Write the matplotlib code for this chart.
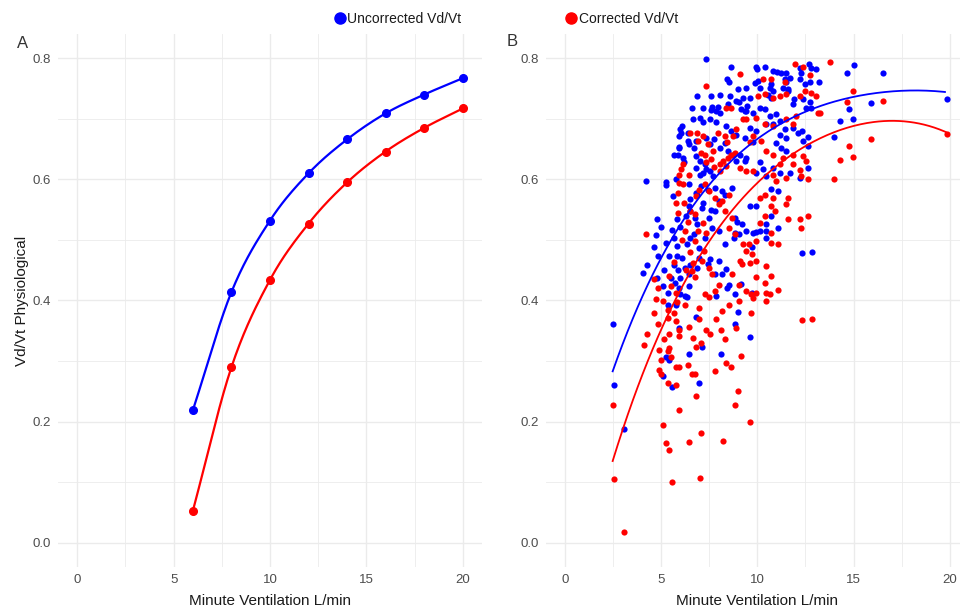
import numpy as np
import matplotlib
matplotlib.use("Agg")
import matplotlib.pyplot as plt
from matplotlib.lines import Line2D

plt.rcParams['font.family'] = ['Liberation Sans', 'DejaVu Sans']

# ---------------- datos ----------------
# Panel A: curvas modeladas
ve_a = [6, 8, 10, 12, 14, 16, 18, 20]
unc_a = [0.219, 0.414, 0.532, 0.610, 0.666, 0.709, 0.740, 0.767]
cor_a = [0.053, 0.290, 0.434, 0.527, 0.595, 0.646, 0.685, 0.717]

# Panel B: pacientes (VE, Vd/Vt)
unc_pts = [
    (7.34, 0.799), (4.22, 0.597), (4.08, 0.445), (4.27, 0.459), (4.79, 0.535), (4.74, 0.508),
    (4.62, 0.489), (4.83, 0.473), (5.0, 0.522), (5.17, 0.451), (5.26, 0.596), (5.26, 0.590),
    (5.63, 0.572), (5.69, 0.640), (5.92, 0.654), (5.99, 0.683), (6.06, 0.688), (6.39, 0.676),
    (6.61, 0.718), (6.86, 0.737), (6.68, 0.700), (7.17, 0.718), (7.6, 0.737), (7.66, 0.720),
    (8.04, 0.739), (7.97, 0.720), (8.42, 0.765), (8.52, 0.760), (8.65, 0.785), (8.99, 0.749),
    (9.04, 0.727), (9.17, 0.716), (9.34, 0.713), (9.46, 0.721), (9.6, 0.735), (9.95, 0.786),
    (9.98, 0.782), (9.86, 0.759), (10.38, 0.786), (10.82, 0.779), (11.02, 0.777), (11.25, 0.775),
    (11.51, 0.776), (10.73, 0.757), (10.56, 0.740), (11.48, 0.760), (11.58, 0.746), (11.89, 0.732),
    (12.2, 0.784), (12.29, 0.776), (12.69, 0.791), (12.81, 0.784), (13.04, 0.782), (13.19, 0.760),
    (12.47, 0.757), (12.73, 0.760), (14.64, 0.775), (15.02, 0.789), (16.55, 0.776), (15.9, 0.726),
    (14.77, 0.716), (14.95, 0.699), (14.29, 0.696), (13.99, 0.670), (19.84, 0.732), (12.64, 0.670),
    (12.34, 0.680), (12.24, 0.603), (12.64, 0.619), (12.34, 0.478), (12.86, 0.480), (11.08, 0.520),
    (10.47, 0.527), (10.73, 0.539), (10.47, 0.504), (10.12, 0.515), (9.95, 0.513), (9.72, 0.489),
    (8.96, 0.529), (8.82, 0.512), (8.35, 0.452), (8.42, 0.421), (7.83, 0.408), (7.43, 0.460),
    (7.52, 0.468),
    (7.6, 0.715), (7.86, 0.713), (8.04, 0.710), (8.47, 0.724), (8.56, 0.738), (8.91, 0.729),
    (7.0, 0.702), (7.17, 0.694), (7.52, 0.700), (7.86, 0.694), (6.04, 0.677), (5.95, 0.672),
    (6.39, 0.663), (6.47, 0.658), (6.73, 0.652), (5.95, 0.652), (5.86, 0.641), (6.13, 0.636),
    (6.21, 0.628), (6.82, 0.663), (7.34, 0.669), (7.52, 0.658), (7.77, 0.666), (8.04, 0.652),
    (8.3, 0.660), (8.47, 0.647), (8.73, 0.641), (8.91, 0.630), (7.0, 0.630), (7.26, 0.625),
    (7.34, 0.617), (7.52, 0.614), (7.17, 0.611), (7.69, 0.606), (7.0, 0.608), (5.78, 0.600),
    (6.82, 0.619), (8.39, 0.688), (8.65, 0.680), (8.91, 0.674),
    (11.42, 0.765), (11.68, 0.768), (12.2, 0.765), (10.12, 0.751), (10.03, 0.762), (9.43, 0.751),
    (9.25, 0.735), (10.64, 0.751), (10.81, 0.746), (10.73, 0.735), (11.33, 0.751), (11.59, 0.749),
    (11.85, 0.724), (12.38, 0.732), (12.72, 0.727), (12.55, 0.718), (12.81, 0.718), (9.43, 0.713),
    (9.77, 0.710), (10.12, 0.718), (10.38, 0.716), (10.64, 0.705), (10.99, 0.708), (10.81, 0.691),
    (11.16, 0.696), (10.47, 0.691), (9.6, 0.685), (9.94, 0.680), (9.34, 0.669), (9.77, 0.661),
    (11.16, 0.674), (11.42, 0.683), (11.5, 0.669), (10.99, 0.660), (11.25, 0.652), (11.85, 0.685),
    (12.12, 0.677), (12.38, 0.663), (12.64, 0.655), (9.08, 0.641), (9.43, 0.636), (9.34, 0.630),
    (10.12, 0.628), (10.29, 0.617), (10.81, 0.619), (11.16, 0.611), (11.68, 0.611), (11.5, 0.647),
    (9.94, 0.611), (10.47, 0.606),
    (5.82, 0.534), (6.0, 0.521), (5.65, 0.504), (5.82, 0.490), (6.35, 0.493), (6.52, 0.504),
    (6.69, 0.509), (6.87, 0.526), (6.78, 0.537), (6.43, 0.556), (5.82, 0.473), (6.09, 0.470),
    (6.26, 0.454), (6.43, 0.443), (6.0, 0.437), (5.74, 0.429), (5.91, 0.421), (6.26, 0.407),
    (6.0, 0.410), (6.52, 0.459), (6.95, 0.470), (6.87, 0.454), (6.95, 0.487), (7.3, 0.504),
    (7.65, 0.520), (7.47, 0.537), (7.82, 0.548), (7.99, 0.564), (8.34, 0.575), (8.69, 0.586),
    (8.17, 0.581), (7.82, 0.586), (6.43, 0.592), (6.87, 0.575), (7.13, 0.553), (7.99, 0.515),
    (8.34, 0.493), (8.78, 0.504), (9.04, 0.509), (9.39, 0.515), (7.99, 0.465), (8.17, 0.443),
    (8.51, 0.426), (7.82, 0.443), (8.86, 0.410), (9.73, 0.412), (8.86, 0.536), (9.21, 0.526),
    (6.43, 0.424), (6.35, 0.405),
    (4.79, 0.437), (5.09, 0.424), (5.35, 0.413), (5.52, 0.437), (5.69, 0.459), (5.87, 0.451),
    (5.43, 0.473), (5.26, 0.495), (5.57, 0.517), (6.3, 0.539), (6.48, 0.548),
    (6.82, 0.639), (7.08, 0.589), (7.43, 0.583), (6.82, 0.578), (6.48, 0.567), (7.17, 0.561),
    (7.6, 0.550),
    (10.73, 0.584), (11.07, 0.581), (9.95, 0.556), (9.6, 0.556), (9.77, 0.512), (10.47, 0.515),
    (9.16, 0.428),
    (2.48, 0.362), (2.57, 0.261), (3.09, 0.188), (5.09, 0.276), (5.57, 0.257), (6.44, 0.311),
    (7.12, 0.323), (6.96, 0.263), (8.09, 0.311), (8.82, 0.362), (8.99, 0.381), (9.6, 0.340),
    (5.35, 0.393), (5.75, 0.392), (6.82, 0.373), (5.23, 0.307), (5.43, 0.301), (5.95, 0.355),
]

cor_pts = [
    (7.34, 0.754), (8.35, 0.718), (8.65, 0.717), (6.87, 0.676), (7.95, 0.677), (8.3, 0.672),
    (7.08, 0.644), (7.26, 0.641), (7.69, 0.647), (6.13, 0.625), (6.04, 0.617), (5.95, 0.608),
    (6.47, 0.608), (5.95, 0.594), (7.34, 0.628), (7.6, 0.634), (7.77, 0.620), (8.04, 0.625),
    (8.21, 0.631), (8.47, 0.636), (8.65, 0.641), (8.82, 0.644), (8.04, 0.614), (8.39, 0.622),
    (9.08, 0.774), (11.42, 0.760), (10.69, 0.765), (10.29, 0.765),
    (11.94, 0.790), (12.38, 0.785), (12.72, 0.773), (10.03, 0.738), (10.38, 0.741), (10.81, 0.735),
    (11.16, 0.738), (11.5, 0.741), (12.2, 0.738), (12.46, 0.746), (12.81, 0.743), (13.07, 0.738),
    (13.24, 0.709), (9.43, 0.699), (9.94, 0.702), (10.38, 0.691), (10.81, 0.688), (11.5, 0.699),
    (12.03, 0.705), (11.85, 0.691), (9.77, 0.672), (9.6, 0.661), (10.2, 0.663), (10.47, 0.647),
    (10.81, 0.641), (11.33, 0.636), (11.85, 0.641), (12.38, 0.638), (12.55, 0.630), (11.85, 0.625),
    (14.77, 0.655), (14.29, 0.632), (14.95, 0.637), (13.99, 0.600), (15.9, 0.666), (16.55, 0.729),
    (14.99, 0.746), (14.64, 0.728), (13.77, 0.794), (19.84, 0.675), (13.16, 0.710), (12.64, 0.600),
    (12.2, 0.616), (12.29, 0.605), (9.08, 0.619), (9.43, 0.614), (9.77, 0.614), (10.81, 0.608),
    (10.99, 0.597), (11.16, 0.625), (11.5, 0.603),
    (10.12, 0.570), (10.38, 0.575), (10.81, 0.570), (11.59, 0.570), (11.51, 0.559), (10.73, 0.556),
    (10.9, 0.548), (11.59, 0.534), (12.2, 0.534), (12.64, 0.539), (12.29, 0.520), (10.38, 0.539),
    (10.12, 0.528), (10.73, 0.512), (11.07, 0.493), (10.73, 0.495), (9.95, 0.498), (9.25, 0.493),
    (9.08, 0.465), (9.6, 0.462), (10.47, 0.457), (10.73, 0.440), (10.38, 0.429), (11.07, 0.418),
    (10.47, 0.413), (10.64, 0.410), (9.95, 0.413), (9.69, 0.410), (9.77, 0.404), (10.47, 0.399),
    (9.69, 0.380),
    (4.22, 0.510), (6.26, 0.515), (6.78, 0.498), (7.21, 0.482), (7.13, 0.465), (6.6, 0.449),
    (6.78, 0.438), (7.47, 0.454), (7.65, 0.443), (7.99, 0.426), (7.82, 0.416), (7.47, 0.405),
    (5.82, 0.398), (6.26, 0.393), (5.65, 0.379), (6.95, 0.388), (7.3, 0.410), (7.99, 0.559),
    (8.34, 0.548), (8.69, 0.537), (8.51, 0.520), (8.86, 0.509), (9.39, 0.482), (9.73, 0.476),
    (9.91, 0.465), (7.47, 0.581), (7.82, 0.570), (8.17, 0.564), (8.51, 0.575), (7.3, 0.592),
    (6.95, 0.583), (8.69, 0.443), (9.04, 0.426), (9.39, 0.416), (9.04, 0.399), (8.51, 0.393),
    (8.17, 0.383), (9.56, 0.493), (9.21, 0.460), (9.91, 0.438),
    (6.16, 0.592), (5.87, 0.578), (5.78, 0.561), (6.21, 0.561), (6.48, 0.548), (6.82, 0.572),
    (6.74, 0.542), (7.17, 0.528), (7.34, 0.512), (5.69, 0.463), (5.43, 0.441), (5.52, 0.424),
    (5.78, 0.413), (6.3, 0.451), (6.65, 0.462), (6.1, 0.500), (6.5, 0.480), (6.9, 0.515),
    (6.4, 0.530), (5.9, 0.545),
    (6.48, 0.677), (6.91, 0.663), (7.17, 0.672), (7.43, 0.658), (8.42, 0.661), (8.73, 0.672),
    (8.91, 0.683), (9.25, 0.699),
    (4.62, 0.436), (4.83, 0.421), (4.74, 0.402), (5.09, 0.399), (5.35, 0.385),
    (4.83, 0.361), (5.35, 0.371), (5.78, 0.366), (5.95, 0.352), (5.43, 0.344), (5.17, 0.336),
    (5.95, 0.341), (6.47, 0.357), (6.99, 0.369), (7.34, 0.352), (7.52, 0.344), (6.65, 0.338),
    (6.82, 0.324), (7.08, 0.330), (6.39, 0.294), (5.78, 0.291), (5.95, 0.290), (5.43, 0.322),
    (5.35, 0.316), (5.0, 0.302), (4.91, 0.286), (5.0, 0.278), (5.35, 0.264), (5.78, 0.261),
    (6.82, 0.242), (5.95, 0.220), (7.78, 0.283), (8.38, 0.297), (8.65, 0.291), (8.3, 0.336),
    (8.12, 0.352), (7.86, 0.369), (8.91, 0.355), (8.82, 0.228), (8.99, 0.250), (4.13, 0.327),
    (5.09, 0.195), (7.08, 0.181), (8.21, 0.168), (6.47, 0.166), (2.48, 0.228), (5.26, 0.165),
    (5.43, 0.153), (2.57, 0.105), (3.09, 0.017), (5.57, 0.101), (7.0, 0.107), (9.6, 0.200),
    (4.27, 0.345), (4.62, 0.380), (4.88, 0.318), (5.52, 0.307), (9.16, 0.309), (6.74, 0.278),
    (6.6, 0.278), (12.34, 0.367), (12.86, 0.369),
]

# Panel B: curvas de ajuste
unc_fit_x = [2.48, 3.0, 3.95, 6.3, 7.43, 8.89, 11.3, 13.4, 15.2, 17.4, 19.75]
unc_fit_y = [0.287, 0.33, 0.39, 0.542, 0.595, 0.639, 0.688, 0.721, 0.738, 0.749, 0.743]
cor_fit_x = [2.48, 3.17, 4.2, 5.08, 5.78, 6.82, 8.2, 10.3, 12.4, 14.98, 17.4, 19.8]
cor_fit_y = [0.138, 0.203, 0.286, 0.352, 0.407, 0.468, 0.534, 0.60, 0.65, 0.688, 0.699, 0.677]

AZUL = '#0000ff'
ROJO = '#ff0000'
GRIS_TXT = '#4d4d4d'


def suavizar(x, y, n=20):
    # Catmull-Rom: curva suave que pasa por todos los puntos
    x = np.asarray(x, float)
    y = np.asarray(y, float)
    px = np.concatenate([[2 * x[0] - x[1]], x, [2 * x[-1] - x[-2]]])
    py = np.concatenate([[2 * y[0] - y[1]], y, [2 * y[-1] - y[-2]]])
    t = np.linspace(0, 1, n)[:, None]
    xs, ys = [], []
    for i in range(1, len(px) - 2):
        for arr, out in ((px, xs), (py, ys)):
            p0, p1, p2, p3 = arr[i - 1], arr[i], arr[i + 1], arr[i + 2]
            out.append((0.5 * (2 * p1 + (-p0 + p2) * t + (2 * p0 - 5 * p1 + 4 * p2 - p3) * t ** 2
                               + (-p0 + 3 * p1 - 3 * p2 + p3) * t ** 3)).ravel())
    return np.concatenate(xs), np.concatenate(ys)


# ---------------- figura ----------------
fig = plt.figure(figsize=(9.6, 6.07), dpi=100)
W, H = 960.0, 607.0
axA = fig.add_axes([58 / W, 1 - 567 / H, (482 - 58) / W, (567 - 34) / H])
axB = fig.add_axes([545.7 / W, 1 - 567 / H, (969 - 545.7) / W, (567 - 34) / H])


def estilo(ax):
    ax.set_xlim(-1, 21)
    ax.set_ylim(-0.04, 0.84)
    ax.set_xticks([0, 5, 10, 15, 20])
    ax.set_yticks([0.0, 0.2, 0.4, 0.6, 0.8])
    ax.set_yticklabels(['0.0', '0.2', '0.4', '0.6', '0.8'])
    ax.set_xticks([2.5, 7.5, 12.5, 17.5], minor=True)
    ax.set_yticks([0.1, 0.3, 0.5, 0.7], minor=True)
    ax.grid(True, which='major', color='#ebebeb', lw=1.0)
    ax.grid(True, which='minor', color='#ebebeb', lw=0.6)
    ax.set_axisbelow(True)
    for s in ax.spines.values():
        s.set_visible(False)
    ax.tick_params(which='both', length=0, labelsize=9.5, labelcolor=GRIS_TXT, pad=5)
    ax.set_xlabel('Minute Ventilation L/min', fontsize=11, color='#1a1a1a', labelpad=6)


estilo(axA)
estilo(axB)

# Panel A
for yv, col in [(unc_a, AZUL), (cor_a, ROJO)]:
    sx, sy = suavizar(ve_a, yv)
    axA.plot(sx, sy, '-', color=col, lw=1.6)
    axA.plot(ve_a, yv, 'o', color=col, ms=5.5)
axA.set_ylabel('Vd/Vt Physiological', fontsize=11, color='#1a1a1a', labelpad=3)

# Panel B
ux, uy = zip(*unc_pts)
cx, cy = zip(*cor_pts)
axB.scatter(ux, uy, s=20, color=AZUL, linewidths=0, zorder=3)
axB.scatter(cx, cy, s=20, color=ROJO, linewidths=0, zorder=3)

for fx, fy, col in [(unc_fit_x, unc_fit_y, AZUL), (cor_fit_x, cor_fit_y, ROJO)]:
    coef = np.polyfit(fx, fy, 4)
    xs = np.linspace(min(fx), max(fx), 200)
    axB.plot(xs, np.polyval(coef, xs), color=col, lw=1.3, zorder=4)

fig.text(17 / W, 1 - 44 / H, 'A', fontsize=12, color='#333333', va='center')
fig.text(507 / W, 1 - 42 / H, 'B', fontsize=12, color='#333333', va='center')

# Leyenda
manejadores = [
    Line2D([], [], ls='', marker='o', color=AZUL, ms=8, label='Uncorrected Vd/Vt'),
    Line2D([], [], ls='', marker='o', color=ROJO, ms=8, label='Corrected Vd/Vt'),
]
fig.legend(handles=manejadores, loc='center', bbox_to_anchor=(506 / W, 1 - 19 / H), ncol=2,
           frameon=False, fontsize=10, handlelength=0.8, handletextpad=0.15,
           columnspacing=7.5, labelcolor='#1a1a1a')

fig.savefig('out.png', dpi=100)
